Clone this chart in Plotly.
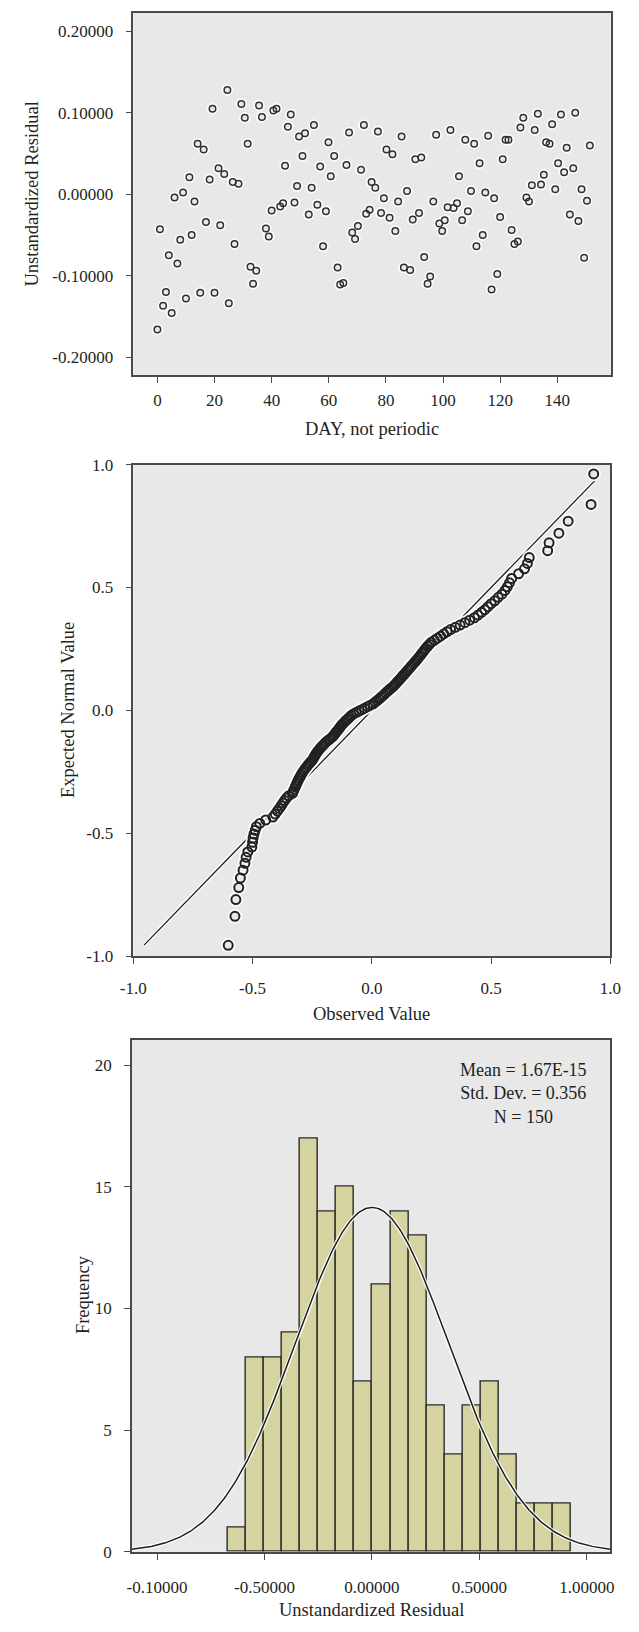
import numpy as np
import plotly.graph_objects as go

W, H = 639, 1632
FONT = "Liberation Serif"
INK = "#231f20"
FRAME = "#4a4a4a"
PANEL_BG = "#e8e8e9"

# ---- Residuals against day ----
day = [0, 0.9, 2, 3, 4, 5, 6, 7, 8, 9, 10, 11.2, 12, 13, 14.1, 15, 16.2, 17, 18.3, 19.3,
       20, 21.4, 22, 23.4, 24.5, 25, 26.4, 27, 28.4, 29.4, 30.6, 31.6, 32.6, 33.5, 34.6, 35.6,
       36.6, 38, 39, 40, 40.6, 41.7, 43, 44, 44.7, 45.7, 46.7, 48, 48.9, 49.6, 50.8, 51.7,
       53, 54, 54.8, 56, 57, 58, 59, 59.9, 60.7, 61.9, 63.1, 64, 65.1, 66.2, 67.1, 68.2,
       69.2, 70.2, 71.3, 72.3, 73.1, 74.3, 75, 76.3, 77.2, 78.3, 79.3, 80.2, 81.3, 82.3,
       83.3, 84.3, 85.5, 86.3, 87.4, 88.5, 89.4, 90.3, 91.6, 92.4, 93.4, 94.6, 95.5, 96.6,
       97.6, 98.7, 99.7, 100.6, 101.6, 102.6, 103.7, 104.9, 105.6, 106.7, 107.8, 108.7,
       109.8, 110.9, 111.7, 112.8, 113.9, 114.8, 115.8, 117, 117.9, 119, 120, 120.9, 121.9,
       122.9, 124, 125, 126.2, 127.1, 128.1, 129.2, 130.1, 131.1, 132.1, 133.2, 134.3,
       135.3, 136.1, 137.3, 138.2, 139.3, 140.3, 141.3, 142.4, 143.3, 144.4, 145.6, 146.3,
       147.4, 148.5, 149.4, 150.4, 151.4]
resid = [-0.166, -0.043, -0.137, -0.120, -0.075, -0.146, -0.004, -0.085, -0.056, 0.002,
         -0.128, 0.021, -0.050, -0.009, 0.062, -0.121, 0.055, -0.034, 0.018, 0.105,
         -0.121, 0.032, -0.038, 0.025, 0.128, -0.134, 0.015, -0.061, 0.013, 0.111,
         0.094, 0.062, -0.089, -0.110, -0.094, 0.109, 0.095, -0.042, -0.052, -0.020,
         0.103, 0.105, -0.015, -0.011, 0.035, 0.083, 0.098, -0.010, 0.010, 0.071,
         0.047, 0.075, -0.025, 0.008, 0.085, -0.013, 0.034, -0.064, -0.021, 0.064,
         0.022, 0.047, -0.090, -0.111, -0.109, 0.036, 0.076, -0.047, -0.055, -0.039,
         0.030, 0.085, -0.024, -0.019, 0.015, 0.008, 0.077, -0.023, -0.005, 0.055,
         -0.029, 0.049, -0.045, -0.009, 0.071, -0.090, 0.004, -0.093, -0.031, 0.043,
         -0.023, 0.045, -0.077, -0.110, -0.101, -0.009, 0.073, -0.036, -0.045, -0.032,
         -0.016, 0.079, -0.017, -0.011, 0.022, -0.032, 0.067, -0.021, 0.004, 0.062,
         -0.064, 0.038, -0.050, 0.002, 0.072, -0.117, -0.005, -0.098, -0.028, 0.043,
         0.067, 0.067, -0.044, -0.061, -0.058, 0.082, 0.094, -0.004, -0.009, 0.011,
         0.079, 0.099, 0.012, 0.024, 0.064, 0.062, 0.086, 0.006, 0.038, 0.098,
         0.027, 0.057, -0.025, 0.032, 0.100, -0.033, 0.006, -0.078, -0.008, 0.060]
day_ticks = [0, 20, 40, 60, 80, 100, 120, 140]
resid_ticks = [-0.2, -0.1, 0.0, 0.1, 0.2]
resid_ticklabels = ["-0.20000", "-0.10000", "0.00000", "0.10000", "0.20000"]

# ---- Normal Q-Q plot ----
qq_observed = [
    -0.602,
    -0.574, -0.570, -0.558, -0.551, -0.540, -0.532, -0.527, -0.520,
    -0.503, -0.500, -0.498, -0.494, -0.489, -0.484, -0.470, -0.445,
    -0.415, -0.405, -0.396, -0.388, -0.380, -0.373, -0.366, -0.358, -0.348,
    -0.333, -0.329, -0.325, -0.321, -0.317, -0.313, -0.309, -0.305, -0.300,
    -0.296, -0.291, -0.286, -0.280, -0.274, -0.268, -0.262, -0.256,
    -0.249, -0.245, -0.241, -0.237, -0.232, -0.227, -0.222, -0.216, -0.210,
    -0.204, -0.197, -0.190, -0.182, -0.174,
    -0.165, -0.160, -0.155, -0.150, -0.145, -0.140, -0.135, -0.130, -0.125,
    -0.119, -0.113, -0.107, -0.100, -0.093, -0.087,
    -0.078, -0.066, -0.054, -0.042, -0.030, -0.018, -0.006,
    0.006, 0.014, 0.022, 0.030, 0.037, 0.044, 0.051, 0.058, 0.065, 0.072, 0.079,
    0.088, 0.094, 0.100, 0.106, 0.112, 0.118, 0.124, 0.130, 0.136, 0.142, 0.148,
    0.154, 0.160, 0.166,
    0.173, 0.179, 0.185, 0.191, 0.197, 0.203, 0.209, 0.215, 0.221, 0.227, 0.234,
    0.241, 0.249,
    0.262, 0.275, 0.288, 0.301, 0.315, 0.330,
    0.350, 0.370, 0.390, 0.410,
    0.430, 0.445, 0.460, 0.474, 0.487, 0.500,
    0.515, 0.530, 0.545, 0.558, 0.568, 0.577, 0.586,
    0.615, 0.640, 0.652, 0.660,
    0.737, 0.743, 0.784, 0.823, 0.919, 0.930]
qq_expected = [
    -0.956, -0.838, -0.770, -0.721, -0.682, -0.650, -0.622, -0.598, -0.576, -0.556,
    -0.537, -0.519, -0.503, -0.488, -0.473, -0.460, -0.446, -0.434, -0.422, -0.410,
    -0.399, -0.388, -0.377, -0.367, -0.357, -0.347, -0.338, -0.329, -0.320, -0.311,
    -0.302, -0.294, -0.285, -0.277, -0.269, -0.261, -0.253, -0.246, -0.238, -0.231,
    -0.223, -0.216, -0.209, -0.202, -0.195, -0.188, -0.181, -0.174, -0.167, -0.161,
    -0.154, -0.147, -0.141, -0.134, -0.127, -0.121, -0.115, -0.108, -0.102, -0.096,
    -0.089, -0.083, -0.077, -0.071, -0.064, -0.058, -0.052, -0.046, -0.040, -0.034,
    -0.027, -0.021, -0.015, -0.009, -0.003,
    0.003, 0.009, 0.015, 0.021, 0.027, 0.034, 0.040, 0.046, 0.052, 0.058,
    0.064, 0.071, 0.077, 0.083, 0.089, 0.096, 0.102, 0.108, 0.115, 0.121,
    0.127, 0.134, 0.141, 0.147, 0.154, 0.161, 0.167, 0.174, 0.181, 0.188,
    0.195, 0.202, 0.209, 0.216, 0.223, 0.231, 0.238, 0.246, 0.253, 0.261,
    0.269, 0.277, 0.285, 0.294, 0.302, 0.311, 0.320, 0.329, 0.338, 0.347,
    0.357, 0.367, 0.377, 0.388, 0.399, 0.410, 0.422, 0.434, 0.446, 0.460,
    0.473, 0.488, 0.503, 0.519, 0.537, 0.556, 0.576, 0.598, 0.622, 0.650,
    0.682, 0.721, 0.770, 0.838, 0.962]
qq_line = [-0.955, 0.935]
pp_ticks = [-1.0, -0.5, 0.0, 0.5, 1.0]
pp_ticklabels = ["-1.0", "-0.5", "0.0", "0.5", "1.0"]

# ---- Histogram of residuals ----
bin_start = -0.672
bin_width = 0.0842
freq = [1, 8, 8, 9, 17, 14, 15, 7, 11, 14, 13, 6, 4, 6, 7, 4, 2, 2, 2]
hist_ticks = [-1.0, -0.5, 0.0, 0.5, 1.0]
hist_ticklabels = ["-0.10000", "-0.50000", "0.00000", "0.50000", "1.00000"]
freq_ticks = [0, 5, 10, 15, 20]
mean_val = 1.67e-15
std_val = 0.356
n_val = 150

fig = go.Figure()

# residual scatter: soft white halo beneath dark open circles
fig.add_trace(go.Scatter(x=day, y=resid, mode="markers", xaxis="x", yaxis="y",
                         marker=dict(symbol="circle-open", size=8.5, color="rgba(255,255,255,0.85)",
                                     line=dict(width=3)), hoverinfo="skip", showlegend=False))
fig.add_trace(go.Scatter(x=day, y=resid, mode="markers", xaxis="x", yaxis="y",
                         marker=dict(symbol="circle-open", size=6.5, color="#303030",
                                     line=dict(width=1.5)), showlegend=False))

# Q-Q reference line and points
fig.add_trace(go.Scatter(x=qq_line, y=qq_line, mode="lines", xaxis="x2", yaxis="y2",
                         line=dict(color="rgba(255,255,255,0.9)", width=4), hoverinfo="skip",
                         showlegend=False))
fig.add_trace(go.Scatter(x=qq_line, y=qq_line, mode="lines", xaxis="x2", yaxis="y2",
                         line=dict(color="#1e1e1e", width=1.3), showlegend=False))
fig.add_trace(go.Scatter(x=qq_observed, y=qq_expected, mode="markers", xaxis="x2", yaxis="y2",
                         marker=dict(symbol="circle-open", size=11, color="rgba(255,255,255,0.85)",
                                     line=dict(width=3.5)), hoverinfo="skip", showlegend=False))
fig.add_trace(go.Scatter(x=qq_observed, y=qq_expected, mode="markers", xaxis="x2", yaxis="y2",
                         marker=dict(symbol="circle-open", size=9, color="#222222",
                                     line=dict(width=2)), showlegend=False))

# histogram bars
centers = [bin_start + (i + 0.5) * bin_width for i in range(len(freq))]
fig.add_trace(go.Bar(x=centers, y=freq, width=bin_width, xaxis="x3", yaxis="y3",
                     marker=dict(color="#d5d39f", line=dict(color="#2b2b2b", width=1.4)),
                     showlegend=False))

# fitted normal curve from the stated mean, std. dev. and N
xs = np.linspace(-1.117, 1.109, 400)
ys = n_val * bin_width / (std_val * np.sqrt(2 * np.pi)) * np.exp(-0.5 * ((xs - mean_val) / std_val) ** 2)
fig.add_trace(go.Scatter(x=xs, y=ys, mode="lines", xaxis="x3", yaxis="y3",
                         line=dict(color="rgba(255,255,255,0.9)", width=4), hoverinfo="skip",
                         showlegend=False))
fig.add_trace(go.Scatter(x=xs, y=ys, mode="lines", xaxis="x3", yaxis="y3",
                         line=dict(color="#1e1e1e", width=1.5), showlegend=False))

tickfont = dict(family=FONT, size=17, color=INK)


def axis(domain, rng, tickvals, ticktext, anchor, standoff):
    return dict(domain=domain, range=rng, anchor=anchor, tickmode="array",
                tickvals=tickvals, ticktext=ticktext, ticks="outside", ticklen=6,
                tickwidth=1.2, tickcolor=FRAME, showline=True, mirror=True,
                linecolor=FRAME, linewidth=1.5, showgrid=False, zeroline=False,
                tickfont=tickfont, ticklabelstandoff=standoff, fixedrange=True)


def fx(p):
    return p / W


def fy(p):
    return 1 - p / H


fig.update_layout(
    width=W, height=H, margin=dict(l=0, r=0, t=0, b=0),
    paper_bgcolor="white", plot_bgcolor=PANEL_BG, bargap=0,
    xaxis=axis([fx(125), fx(621)], [-8.43, 158.7], day_ticks,
               [str(t) for t in day_ticks], "y", 2),
    yaxis=axis([fy(370.7), fy(4)], [-0.2225, 0.2227], resid_ticks, resid_ticklabels, "x", 9),
    xaxis2=axis([fx(125), fx(620.7)], [-1, 1], pp_ticks, pp_ticklabels, "y2", 10),
    yaxis2=axis([fy(958.3), fy(461)], [-1, 1], pp_ticks, pp_ticklabels, "x2", 9),
    xaxis3=axis([fx(123.5), fx(620.6)], [-1.117, 1.109], hist_ticks, hist_ticklabels, "y3", 13),
    yaxis3=axis([fy(1561), fy(1042.7)], [0, 21.05], freq_ticks,
                [str(t) for t in freq_ticks], "x3", 9),
)

titlefont = dict(family=FONT, size=18.5, color=INK)
notes = [
    ("DAY, not periodic", fx(373), fy(425), 0),
    ("Unstandardized Residual", fx(20), fy(187.5), -90),
    ("Observed Value", fx(373), fy(1017), 0),
    ("Expected Normal Value", fx(57), fy(709.5), -90),
    ("Unstandardized Residual", fx(372), fy(1620), 0),
    ("Frequency", fx(73), fy(1301), -90),
]
for text, x, y, ang in notes:
    fig.add_annotation(text=text, x=x, y=y, xref="paper", yref="paper", showarrow=False,
                       textangle=ang, font=titlefont, xanchor="center", yanchor="middle")

# summary statistics box, right-aligned inside the histogram panel
fig.add_annotation(
    text=f"Mean = {mean_val:.2E}" + "<br>" + f"Std. Dev. = {std_val}" + "<br>" + f"N = {n_val}",
    x=fx(598), y=fy(1097), xref="paper", yref="paper", showarrow=False,
    align="center", font=dict(family=FONT, size=18, color=INK),
    xanchor="right", yanchor="middle")

fig.write_html("out.html")
